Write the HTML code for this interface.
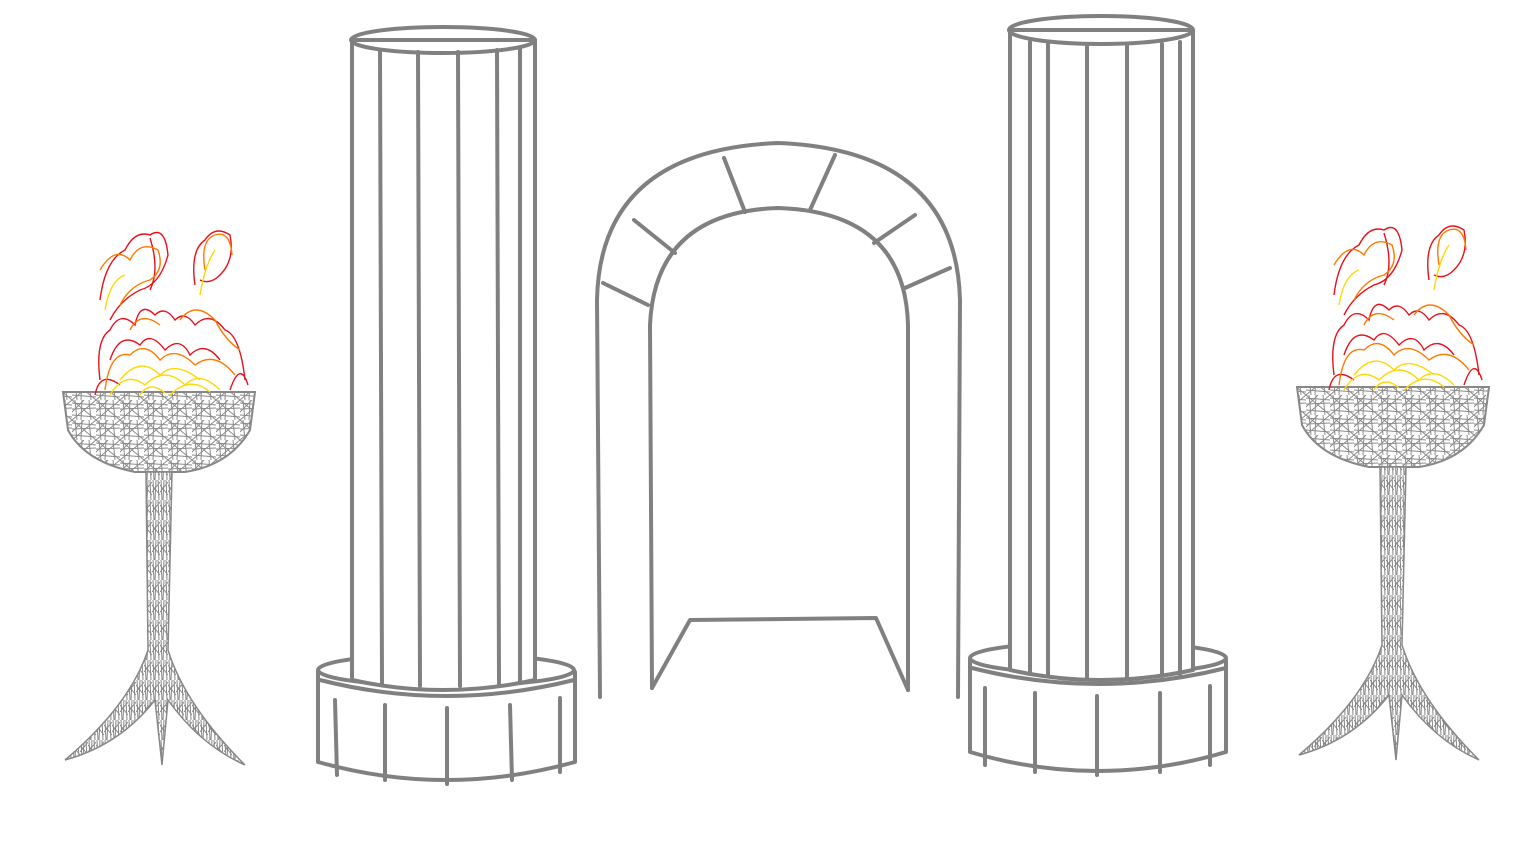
<!DOCTYPE html>
<html><head><meta charset="utf-8">
<style>html,body{margin:0;padding:0;background:#fff;width:1536px;height:864px;overflow:hidden}</style>
</head><body>
<svg id="scene" width="1536" height="864" viewBox="0 0 1536 864" xmlns="http://www.w3.org/2000/svg">
<defs>
  <pattern id="hatch" width="24" height="20" patternUnits="userSpaceOnUse">
    <rect width="24" height="20" fill="#fff"/>
    <path d="M0,3 L24,5 M0,9 L24,8 M0,15 L24,17 M3,0 L5,20 M10,0 L9,20 M17,0 L19,20 M0,0 L24,20 M24,0 L0,20 M0,12 L12,0" stroke="#8a8a8a" stroke-width="1" fill="none"/>
  </pattern>
  <pattern id="hatchv" width="8" height="20" patternUnits="userSpaceOnUse">
    <rect width="8" height="20" fill="#fff"/>
    <path d="M1,0 L2,20 M4,0 L3,20 M6,0 L7,20 M0,5 L8,15 M8,2 L0,12" stroke="#858585" stroke-width="1" fill="none"/>
  </pattern>
  <g id="brazier">
    <path d="M63,392 L255,392 L250,430 Q230,465 185,472 L135,472 Q85,462 68,430 Z" fill="url(#hatch)" stroke="#888" stroke-width="2"/>
    <path d="M146,472 L172,472 L168,650 Q185,705 245,765 Q200,745 168,700 L162,765 L155,700 Q120,745 65,760 Q130,705 148,650 Z" fill="url(#hatchv)" stroke="#888" stroke-width="1.5"/>
    <g fill="none" stroke-width="1.4">
      <path stroke="#e8101a" d="M100,380 Q95,340 110,330 Q120,310 135,325 Q140,300 155,315 Q165,305 175,320 Q185,310 195,325 Q210,310 225,330 Q240,335 245,380 M110,360 Q120,330 140,345 Q150,330 165,350 Q180,335 190,355 Q205,340 220,360 M100,300 Q105,260 125,250 Q135,230 150,235 Q165,225 168,255 Q160,285 140,290 Q120,300 110,320 M195,285 Q190,250 205,240 Q215,225 230,235 Q235,260 220,275 Q210,285 200,280 M150,238 Q160,270 150,290 M95,395 Q100,370 120,385 M230,390 Q240,360 248,385"/>
      <path stroke="#ff7a00" d="M105,390 Q110,350 130,355 Q145,340 160,360 Q175,345 195,365 Q215,350 235,375 M100,270 Q115,245 130,260 Q140,240 158,250 Q165,270 150,280 Q130,285 120,305 M205,270 Q200,240 215,235 Q230,230 232,255 M130,330 Q140,310 160,325 M180,320 Q195,300 215,320 Q225,340 240,350"/>
      <path stroke="#ffd800" d="M110,395 Q125,370 145,385 Q165,365 185,385 Q200,370 220,390 M120,380 Q140,355 160,375 Q175,360 200,380 M105,310 Q110,280 125,275 M200,295 Q205,265 215,250 M140,395 Q150,380 165,393 M170,395 Q190,375 210,392"/>
    </g>
  </g>
</defs>
<use href="#brazier"/>
<use href="#brazier" transform="translate(1234,-5)"/>
<g fill="none" stroke="#808080" stroke-width="4" stroke-linecap="round" stroke-linejoin="round">
  <g>
    <path d="M318,672 L318,762 Q446,798 575,762 L575,672 Z" fill="#fff"/>
    <ellipse cx="446" cy="670" rx="128" ry="16" fill="#fff"/>
    <path d="M320,680 Q446,712 574,680"/>
    <path d="M335,700 L337,775 M385,705 L385,780 M447,708 L447,784 M510,705 L512,780 M560,698 L560,772"/>
    <path d="M352,40 L352,680 Q443,700 535,680 L535,40 Z" fill="#fff"/>
    <ellipse cx="443" cy="40" rx="92" ry="13"/>
    <path d="M380,50 L382,684 M418,52 L420,686 M458,52 L460,686 M497,50 L499,684 M520,48 L520,682"/>
  </g>
  <g>
    <path d="M970,660 L970,752 Q1098,790 1226,752 L1226,660 Z" fill="#fff"/>
    <ellipse cx="1098" cy="658" rx="128" ry="16" fill="#fff"/>
    <path d="M972,668 Q1098,700 1226,668"/>
    <path d="M985,688 L985,765 M1035,693 L1035,772 M1097,696 L1097,775 M1160,693 L1160,772 M1210,686 L1210,765"/>
    <path d="M1010,30 L1010,670 Q1101,690 1193,670 L1193,30 Z" fill="#fff"/>
    <ellipse cx="1101" cy="30" rx="92" ry="14"/>
    <path d="M1030,42 L1030,674 M1048,44 L1048,676 M1087,46 L1087,678 M1127,46 L1127,678 M1162,44 L1162,676 M1180,42 L1180,674"/>
  </g>
  <g>
    <path d="M600,697 L597,300 Q600,150 778,143 Q956,150 960,300 L958,697"/>
    <path d="M652,688 L650,325 Q655,212 778,208 Q905,212 908,325 L908,690"/>
    <path d="M652,688 L690,620 L876,618 L908,690"/>
    <path d="M603,283 L648,305 M634,220 L675,253 M724,158 L745,212 M835,155 L810,210 M874,243 L915,215 M905,288 L950,268"/>
  </g>
</g>
</svg>
</body></html>
